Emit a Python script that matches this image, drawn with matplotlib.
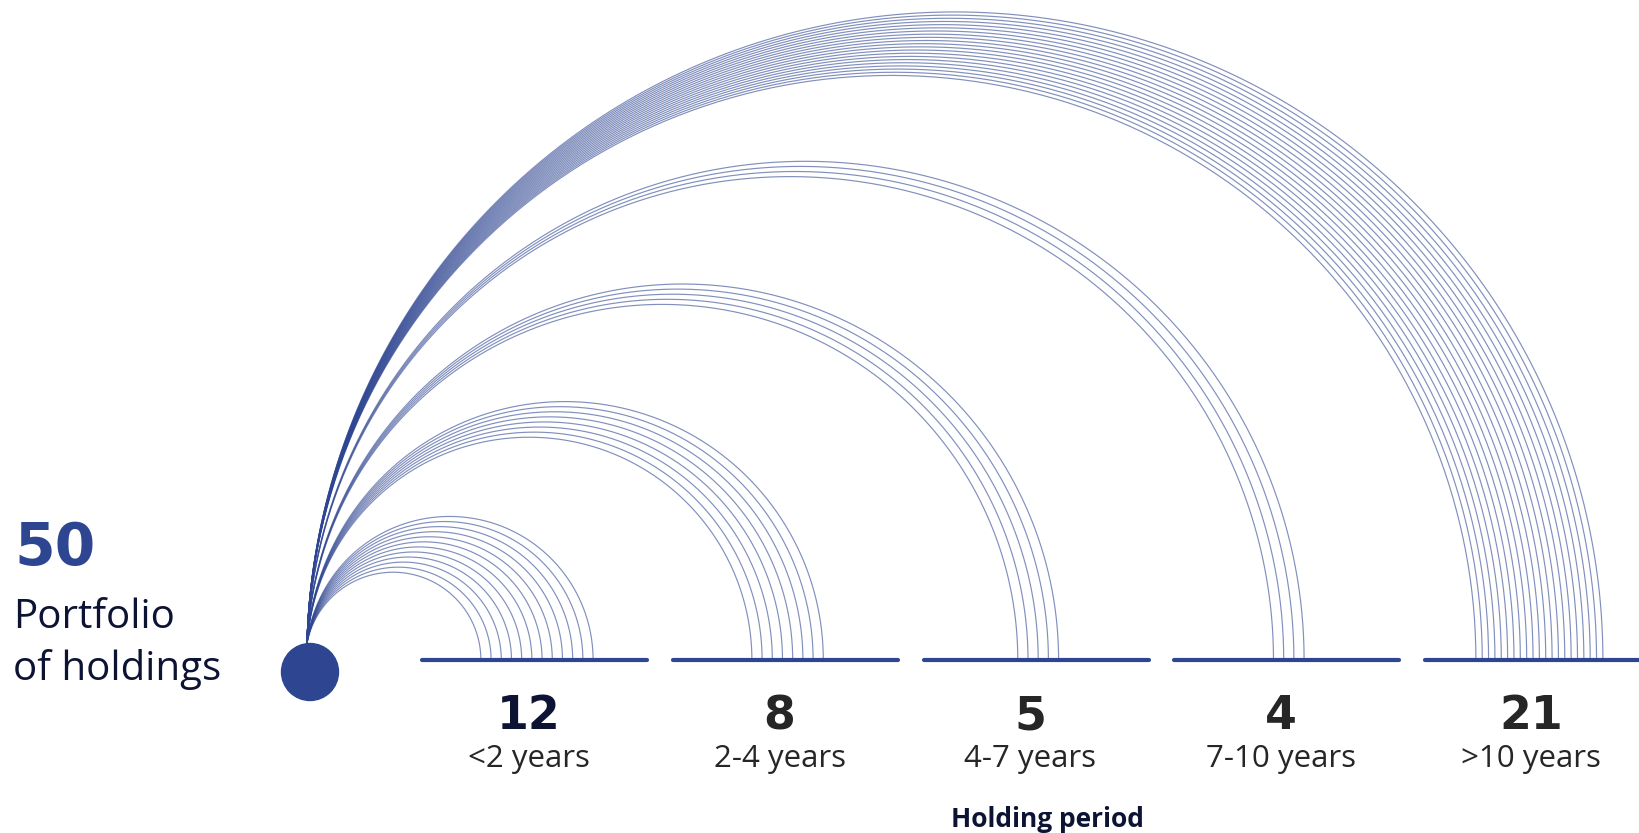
import numpy as np
import matplotlib
matplotlib.use("Agg")
import matplotlib.pyplot as plt
from matplotlib.patches import Circle

# Holdings by holding period
counts = [12, 8, 5, 4, 21]
periods = ["<2 years", "2-4 years", "4-7 years", "7-10 years", ">10 years"]
total = sum(counts)

BLUE = "#2E4591"
NAVY = "#0D1333"
GREY = "#262626"
FONT = ["Open Sans", "DejaVu Sans"]
NUM_FONT = ["DejaVu Sans"]

W, H = 1640, 833
fig = plt.figure(figsize=(W / 100, H / 100), dpi=100)
ax = fig.add_axes([0, 0, 1, 1])
ax.set_xlim(0, W)
ax.set_ylim(0, H)
ax.axis("off")

# layout (pixel units, y up)
base_y = 173            # baseline of the period segments
origin = (307, 190)     # where every arc starts (top of the dot)
seg_x0, seg_step, seg_len = 422.5, 250.6, 225

for i, (n, period) in enumerate(zip(counts, periods)):
    left = seg_x0 + i * seg_step
    right = left + seg_len if i < len(counts) - 1 else W + 10
    seg_mid = seg_x0 + i * seg_step + seg_len / 2
    ax.plot([left, right], [base_y, base_y], color=BLUE, lw=3,
            solid_capstyle="round", zorder=3)

    # one arc per holding, each a circle centred on the baseline
    gap = min(10.2, 127 / max(n - 1, 1))
    ends = seg_mid + 2 + (np.arange(n) - (n - 1) / 2) * gap
    for xe in ends:
        dy = origin[1] - base_y
        cx = (xe ** 2 - origin[0] ** 2 - dy ** 2) / (2 * (xe - origin[0]))
        r = xe - cx
        t0 = np.arctan2(dy, origin[0] - cx)
        t = np.linspace(t0, 0, 400)
        ax.plot(cx + r * np.cos(t), base_y + r * np.sin(t),
                color=BLUE, lw=0.85, alpha=0.6, zorder=2)

    num_color = NAVY if i == 0 else GREY
    ax.text(seg_mid - 6, 104, str(n), ha="center", va="baseline",
            fontsize=33, fontweight="bold", color=num_color, family=NUM_FONT)
    ax.text(seg_mid - 6, 66, period, ha="center", va="baseline",
            fontsize=22.5, color=GREY, family=FONT)

ax.add_patch(Circle((310, 161), 28.5, color=BLUE, zorder=4))

ax.text(14, 268, str(total), ha="left", va="baseline", fontsize=42,
        fontweight="bold", color=BLUE, family=NUM_FONT)
ax.text(13, 205, "Portfolio", ha="left", va="baseline", fontsize=29,
        color=NAVY, family=FONT)
ax.text(13, 153, "of holdings", ha="left", va="baseline", fontsize=29,
        color=NAVY, family=FONT)
ax.text(1047, 6, "Holding period", ha="center", va="baseline",
        fontsize=19, fontweight="bold", color=NAVY, family=FONT)

fig.savefig("out.png", dpi=100, facecolor="white")
